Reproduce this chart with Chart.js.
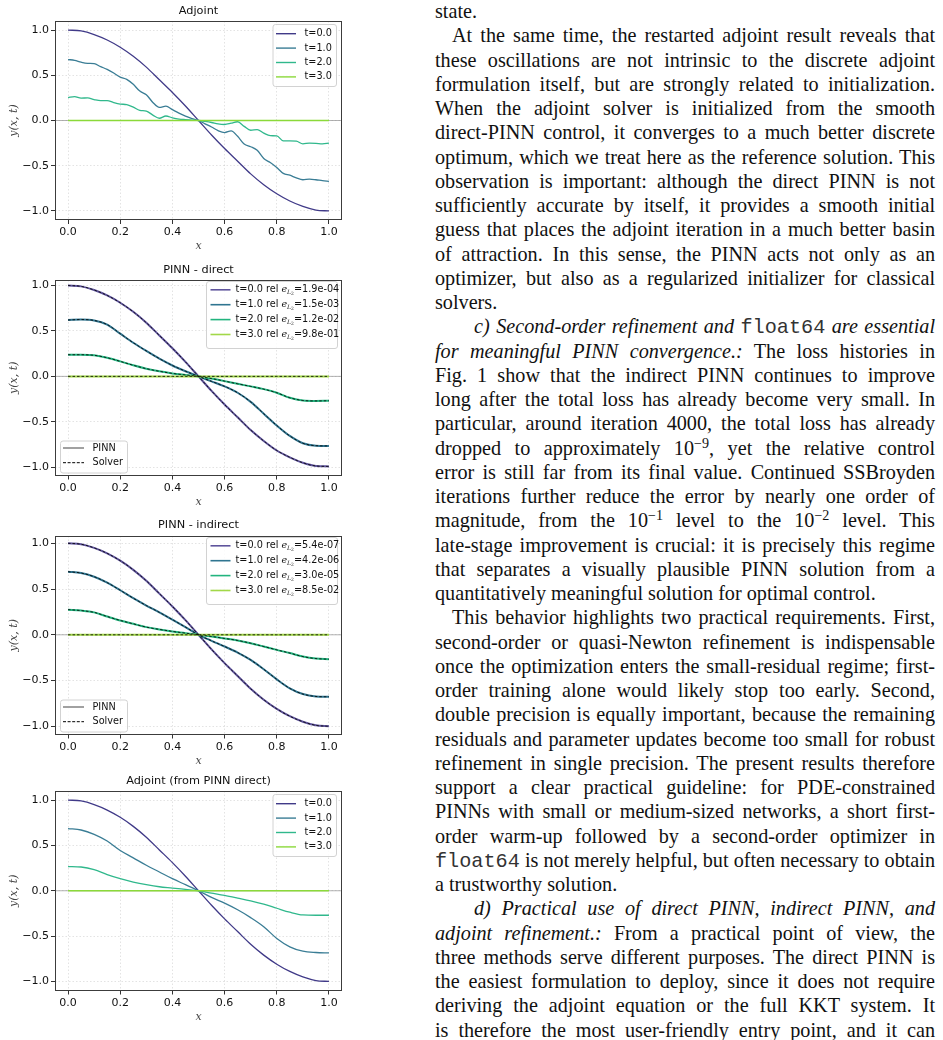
<!DOCTYPE html>
<html>
<head>
<meta charset="utf-8">
<script src="https://cdn.jsdelivr.net/npm/chart.js@4.4.1/dist/chart.umd.min.js"></script>
<style>
  html, body { margin: 0; padding: 0; background: #fff; }
  body { width: 943px; height: 1040px; overflow: hidden; position: relative; }
  canvas { position: absolute; left: 0; }
  #text { position: absolute; left: 435px; top: -1px; width: 500px;
          font-family: "Liberation Serif", "Times New Roman", serif; font-size: 20.2px;
          line-height: 24.25px; color: #111; }
  .ln { height: 24.25px; white-space: nowrap; box-sizing: border-box; width: 500px; }
  .ind { padding-left: 17px; }
  .ind2 { padding-left: 39px; }
  .tt { font-family: "Liberation Mono", "Courier New", monospace; color: #333; }
  sup { font-size: 0.7em; line-height: 0; vertical-align: 0.5em; }
</style>
</head>
<body>
<canvas id="c1" width="350" height="257" style="top:0px"></canvas>
<canvas id="c2" width="350" height="257" style="top:257px"></canvas>
<canvas id="c3" width="350" height="256" style="top:514px"></canvas>
<canvas id="c4" width="350" height="260" style="top:770px"></canvas>

<div id="text">
<div class="ln"><span>state.</span></div>
<div class="ln j ind"><span>At the same time, the restarted adjoint result reveals that</span></div>
<div class="ln j"><span>these oscillations are not intrinsic to the discrete adjoint</span></div>
<div class="ln j"><span>formulation itself, but are strongly related to initialization.</span></div>
<div class="ln j"><span>When the adjoint solver is initialized from the smooth</span></div>
<div class="ln j"><span>direct-PINN control, it converges to a much better discrete</span></div>
<div class="ln j"><span>optimum, which we treat here as the reference solution. This</span></div>
<div class="ln j"><span>observation is important: although the direct PINN is not</span></div>
<div class="ln j"><span>sufficiently accurate by itself, it provides a smooth initial</span></div>
<div class="ln j"><span>guess that places the adjoint iteration in a much better basin</span></div>
<div class="ln j"><span>of attraction. In this sense, the PINN acts not only as an</span></div>
<div class="ln j"><span>optimizer, but also as a regularized initializer for classical</span></div>
<div class="ln"><span>solvers.</span></div>
<div class="ln j ind2"><span><i>c) Second-order refinement and </i><span class="tt">float64</span><i> are essential</i></span></div>
<div class="ln j"><span><i>for meaningful PINN convergence.:</i> The loss histories in</span></div>
<div class="ln j"><span>Fig. 1 show that the indirect PINN continues to improve</span></div>
<div class="ln j"><span>long after the total loss has already become very small. In</span></div>
<div class="ln j"><span>particular, around iteration 4000, the total loss has already</span></div>
<div class="ln j"><span>dropped to approximately 10<sup>−9</sup>, yet the relative control</span></div>
<div class="ln j"><span>error is still far from its final value. Continued SSBroyden</span></div>
<div class="ln j"><span>iterations further reduce the error by nearly one order of</span></div>
<div class="ln j"><span>magnitude, from the 10<sup>−1</sup> level to the 10<sup>−2</sup> level. This</span></div>
<div class="ln j"><span>late-stage improvement is crucial: it is precisely this regime</span></div>
<div class="ln j"><span>that separates a visually plausible PINN solution from a</span></div>
<div class="ln"><span>quantitatively meaningful solution for optimal control.</span></div>
<div class="ln j ind"><span>This behavior highlights two practical requirements. First,</span></div>
<div class="ln j"><span>second-order or quasi-Newton refinement is indispensable</span></div>
<div class="ln j"><span>once the optimization enters the small-residual regime; first-</span></div>
<div class="ln j"><span>order training alone would likely stop too early. Second,</span></div>
<div class="ln j"><span>double precision is equally important, because the remaining</span></div>
<div class="ln j"><span>residuals and parameter updates become too small for robust</span></div>
<div class="ln j"><span>refinement in single precision. The present results therefore</span></div>
<div class="ln j"><span>support a clear practical guideline: for PDE-constrained</span></div>
<div class="ln j"><span>PINNs with small or medium-sized networks, a short first-</span></div>
<div class="ln j"><span>order warm-up followed by a second-order optimizer in</span></div>
<div class="ln j"><span><span class="tt">float64</span> is not merely helpful, but often necessary to obtain</span></div>
<div class="ln"><span>a trustworthy solution.</span></div>
<div class="ln j ind2"><span><i>d) Practical use of direct PINN, indirect PINN, and</i></span></div>
<div class="ln j"><span><i>adjoint refinement.:</i> From a practical point of view, the</span></div>
<div class="ln j"><span>three methods serve different purposes. The direct PINN is</span></div>
<div class="ln j"><span>the easiest formulation to deploy, since it does not require</span></div>
<div class="ln j"><span>deriving the adjoint equation or the full KKT system. It</span></div>
<div class="ln j"><span>is therefore the most user-friendly entry point, and it can</span></div>
</div>

<script>
// x grids
const x21 = [0.0, 0.05, 0.1, 0.15, 0.2, 0.25, 0.3, 0.35, 0.4, 0.45, 0.5,
             0.55, 0.6, 0.65, 0.7, 0.75, 0.8, 0.85, 0.9, 0.95, 1.0];
const x41 = [0.0, 0.025, 0.05, 0.075, 0.1, 0.125, 0.15, 0.175, 0.2, 0.225, 0.25,
             0.275, 0.3, 0.325, 0.35, 0.375, 0.4, 0.425, 0.45, 0.475, 0.5,
             0.525, 0.55, 0.575, 0.6, 0.625, 0.65, 0.675, 0.7, 0.725, 0.75,
             0.775, 0.8, 0.825, 0.85, 0.875, 0.9, 0.925, 0.95, 0.975, 1.0];

const xTicks = [0.0, 0.2, 0.4, 0.6, 0.8, 1.0];
const yTicks = [-1.0, -0.5, 0.0, 0.5, 1.0];

const tLabels = ['t=0.0', 't=1.0', 't=2.0', 't=3.0'];
const directErr = ['1.9e-04', '1.5e-03', '1.2e-02', '9.8e-01'];
const indirectErr = ['5.4e-07', '4.2e-06', '3.0e-05', '8.5e-02'];

// Adjoint (oscillating)
const adj_t0 = [1.0, 0.99, 0.95, 0.89, 0.81, 0.71, 0.59, 0.45, 0.31, 0.16, 0.0,
                -0.16, -0.31, -0.45, -0.59, -0.71, -0.81, -0.89, -0.95, -0.99, -1.0];
const adj_t1 = [0.674, 0.665, 0.645, 0.632, 0.628, 0.595, 0.565, 0.525, 0.48, 0.455, 0.40,
                0.325, 0.285, 0.20, 0.145, 0.158, 0.12, 0.082, 0.048, 0.022, 0.0,
                -0.037, -0.072, -0.112, -0.133, -0.115, -0.175, -0.26, -0.29, -0.33, -0.42,
                -0.465, -0.52, -0.585, -0.605, -0.635, -0.655, -0.648, -0.655, -0.665, -0.672];
const adj_t2 = [0.252, 0.265, 0.248, 0.25, 0.232, 0.22, 0.22, 0.198, 0.182, 0.176, 0.148,
                0.112, 0.104, 0.06, 0.025, 0.05, 0.03, 0.016, 0.01, 0.005, 0.0,
                -0.01, -0.022, -0.038, -0.044, -0.03, -0.014, -0.065, -0.108, -0.1, -0.14,
                -0.168, -0.17, -0.225, -0.225, -0.228, -0.258, -0.25, -0.252, -0.258, -0.25];
const adj_t3 = [0, 0, 0, 0, 0, 0, 0, 0, 0, 0, 0, 0, 0, 0, 0, 0, 0, 0, 0, 0, 0];

// PINN - direct
const dir_t0 = [1.0, 0.99, 0.95, 0.89, 0.81, 0.71, 0.59, 0.45, 0.31, 0.16, 0.0,
                -0.16, -0.31, -0.45, -0.59, -0.71, -0.815, -0.89, -0.95, -0.985, -0.99];
const dir_t1 = [0.62, 0.625, 0.615, 0.57, 0.47, 0.37, 0.28, 0.195, 0.12, 0.057, 0.0,
                -0.055, -0.11, -0.18, -0.28, -0.41, -0.54, -0.655, -0.735, -0.762, -0.765];
const dir_t2 = [0.238, 0.238, 0.232, 0.205, 0.165, 0.122, 0.085, 0.056, 0.033, 0.016, 0.0,
                -0.024, -0.052, -0.082, -0.11, -0.14, -0.18, -0.235, -0.265, -0.27, -0.268];
const dir_t3 = [0, 0, 0, 0, 0, 0, 0, 0, 0, 0, 0, 0, 0, 0, 0, 0, 0, 0, 0, 0, 0];

// PINN - indirect
const ind_t0 = [1.0, 0.99, 0.95, 0.89, 0.81, 0.71, 0.59, 0.45, 0.31, 0.16, 0.0,
                -0.16, -0.31, -0.45, -0.59, -0.71, -0.81, -0.89, -0.95, -0.99, -1.0];
const ind_t1 = [0.69, 0.675, 0.635, 0.57, 0.487, 0.40, 0.32, 0.245, 0.165, 0.084, 0.0,
                -0.066, -0.128, -0.194, -0.275, -0.377, -0.487, -0.586, -0.648, -0.674, -0.678];
const ind_t2 = [0.275, 0.265, 0.245, 0.20, 0.157, 0.12, 0.084, 0.059, 0.037, 0.018, 0.0,
                -0.018, -0.04, -0.062, -0.092, -0.128, -0.165, -0.20, -0.238, -0.26, -0.267];
const ind_t3 = [0, 0, 0, 0, 0, 0, 0, 0, 0, 0, 0, 0, 0, 0, 0, 0, 0, 0, 0, 0, 0];

// Adjoint (from PINN direct)
const ad2_t0 = [1.0, 0.99, 0.95, 0.89, 0.81, 0.71, 0.59, 0.45, 0.31, 0.16, 0.0,
                -0.16, -0.31, -0.45, -0.59, -0.71, -0.81, -0.89, -0.95, -0.99, -1.0];
const ad2_t1 = [0.685, 0.67, 0.622, 0.548, 0.444, 0.363, 0.281, 0.207, 0.133, 0.067, 0.0,
                -0.074, -0.137, -0.21, -0.296, -0.396, -0.526, -0.618, -0.667, -0.681, -0.685];
const ad2_t2 = [0.267, 0.262, 0.233, 0.178, 0.133, 0.096, 0.067, 0.044, 0.03, 0.015, 0.0,
                -0.026, -0.052, -0.081, -0.111, -0.148, -0.193, -0.237, -0.267, -0.27, -0.27];
const ad2_t3 = [0, 0, 0, 0, 0, 0, 0, 0, 0, 0, 0, 0, 0, 0, 0, 0, 0, 0, 0, 0, 0];

const adjColors = ['#403a88', '#3a7d95', '#30b88c', '#8bd93a'];
const pinnColors = ['#5f549c', '#2f7590', '#22b47e', '#a2d848'];

const SANS = '"DejaVu Sans", sans-serif';
const SERIF = '"DejaVu Serif", serif';

function fmtTick(v) {
	return (v < 0 ? '\u2212' : '') + Math.abs(v).toFixed(1);
}

function pts(xs, ys) {
	return xs.map((x, i) => ({ x: x, y: ys[i] }));
}

function lineDs(xs, ys, color, width, dash, order) {
	return {
		data: pts(xs, ys),
		borderColor: color,
		borderWidth: width,
		borderDash: dash || [],
		pointRadius: 0,
		fill: false,
		cubicInterpolationMode: 'monotone',
		order: order
	};
}

function drawParts(ctx, x, y, parts) {
	parts.forEach(p => {
		ctx.font = p[1];
		ctx.fillText(p[0], x, y + (p[2] || 0));
		x += ctx.measureText(p[0]).width;
	});
}

function drawLegend(ctx, L) {
	ctx.save();
	ctx.fillStyle = 'rgba(255,255,255,0.85)';
	ctx.strokeStyle = '#d2d2d2';
	ctx.lineWidth = 1;
	ctx.beginPath();
	ctx.roundRect(L.x0 + 0.5, L.y0 + 0.5, L.x1 - L.x0, L.y1 - L.y0, 2.5);
	ctx.fill();
	ctx.stroke();
	L.rows.forEach((r, i) => {
		const yy = L.ry + i * L.step;
		ctx.strokeStyle = r.color;
		ctx.lineWidth = r.width;
		ctx.setLineDash(r.dash || []);
		ctx.beginPath();
		ctx.moveTo(L.lx0, yy);
		ctx.lineTo(L.lx1, yy);
		ctx.stroke();
		ctx.setLineDash([]);
		ctx.fillStyle = '#111';
		ctx.textBaseline = 'middle';
		drawParts(ctx, L.tx, yy, r.parts);
	});
	ctx.restore();
}

const LEG_FONT = '9.7px ' + SANS;

function errParts(t, err) {
	return [
		[t + ' rel ', LEG_FONT],
		['e', 'italic 9.6px ' + SERIF],
		['L', 'italic 6px ' + SERIF, 2.5],
		['2', '4.5px ' + SERIF, 4],
		['=' + err, LEG_FONT]
	];
}

const decoPlugin = {
	id: 'deco',
	beforeDatasetsDraw(chart, args, o) {
		const ctx = chart.ctx, a = chart.chartArea;
		const y0 = chart.scales.y.getPixelForValue(0);
		ctx.save();
		ctx.strokeStyle = 'rgba(128,128,128,0.6)';
		ctx.lineWidth = 1;
		ctx.beginPath();
		ctx.moveTo(a.left, y0);
		ctx.lineTo(a.right, y0);
		ctx.stroke();
		ctx.restore();
	},
	afterDraw(chart, args, o) {
		const ctx = chart.ctx, a = chart.chartArea;
		ctx.save();
		// frame
		ctx.strokeStyle = '#3c3c3c';
		ctx.lineWidth = 1;
		ctx.strokeRect(Math.round(a.left) + 0.5, Math.round(a.top) + 0.5,
			Math.round(a.right - a.left) - 1, Math.round(a.bottom - a.top) - 1);
		// title
		const cx = (a.left + a.right) / 2;
		ctx.fillStyle = '#111';
		ctx.textAlign = 'center';
		ctx.textBaseline = 'middle';
		ctx.font = '11.3px ' + SANS;
		ctx.fillText(o.title, cx, a.top - o.titleGap);
		// axis labels
		ctx.fillStyle = '#444';
		ctx.font = 'italic 11px ' + SERIF;
		ctx.fillText('x', cx, a.bottom + 26.5);
		ctx.save();
		ctx.translate(14, (a.top + a.bottom) / 2);
		ctx.rotate(-Math.PI / 2);
		ctx.fillText('y(x, t)', 0, 0);
		ctx.restore();
		ctx.textAlign = 'left';
		ctx.restore();

		if (o.legend === 'adj') {
			drawLegend(ctx, {
				x0: 272.5, x1: 336, y0: a.top + 3, y1: a.top + 65,
				ry: a.top + 12.7, step: 14.4, lx0: 276, lx1: 296, tx: 304.5,
				rows: tLabels.map((t, i) => ({ color: adjColors[i], width: 1.4, parts: [[t, LEG_FONT]] }))
			});
		} else {
			const errs = o.legend === 'direct' ? directErr : indirectErr;
			drawLegend(ctx, {
				x0: 206, x1: 337, y0: a.top + 1, y1: a.top + 68,
				ry: a.top + 9.8, step: 14.9, lx0: 210.5, lx1: 230.5, tx: 235.5,
				rows: tLabels.map((t, i) => ({ color: pinnColors[i], width: 1.6, parts: errParts(t, errs[i]) }))
			});
			drawLegend(ctx, {
				x0: 60, x1: 127, y0: a.bottom - 35, y1: a.bottom - 3,
				ry: a.bottom - 27.5, step: 14.7, lx0: 63, lx1: 84, tx: 92.5,
				rows: [
					{ color: '#8a8a8a', width: 1.6, parts: [['PINN', LEG_FONT]] },
					{ color: '#000', width: 1, dash: [3, 1.6], parts: [['Solver', LEG_FONT]] }
				]
			});
		}
	}
};

function makeChart(id, cfg) {
	const canvas = document.getElementById(id);
	const H = canvas.height;
	const tickFont = { family: SANS, size: 11 };
	return new Chart(canvas.getContext('2d'), {
		type: 'line',
		data: { datasets: cfg.datasets },
		options: {
			responsive: false,
			animation: false,
			events: [],
			layout: { padding: { top: cfg.pt, right: 8, left: 0, bottom: 0 } },
			plugins: {
				legend: { display: false },
				tooltip: { enabled: false },
				deco: { title: cfg.title, titleGap: cfg.titleGap, legend: cfg.legend }
			},
			scales: {
				x: {
					type: 'linear',
					min: -0.05,
					max: 1.05,
					afterBuildTicks: s => { s.ticks = xTicks.map(v => ({ value: v })); },
					afterFit: s => { s.height = H - cfg.pb; },
					ticks: { callback: fmtTick, font: tickFont, color: '#111', padding: 2, maxRotation: 0, autoSkip: false },
					grid: { color: 'rgba(0,0,0,0.11)', tickColor: '#333', tickLength: 4, tickWidth: 1 },
					border: { display: false, dash: [1.5, 2] }
				},
				y: {
					min: cfg.ymin,
					max: cfg.ymax,
					afterBuildTicks: s => { s.ticks = yTicks.map(v => ({ value: v })); },
					afterFit: s => { s.width = 55; },
					ticks: { callback: fmtTick, font: tickFont, color: '#111', padding: 2, autoSkip: false },
					grid: { color: 'rgba(0,0,0,0.11)', tickColor: '#333', tickLength: 4, tickWidth: 1 },
					border: { display: false, dash: [1.5, 2] }
				}
			}
		},
		plugins: [decoPlugin]
	});
}

// PINN lines underneath, solver dashed lines on top
function pinnSets(series) {
	const sets = [];
	series.forEach((s, i) => sets.push(lineDs(x21, s, pinnColors[i], 2.0, [], 10 - i)));
	series.forEach((s, i) => sets.push(lineDs(x21, s, '#000', 0.8, [2.5, 2], 5 - i)));
	return sets;
}

makeChart('c1', {
	pt: 21, pb: 220, ymin: -1.1, ymax: 1.1, title: 'Adjoint', titleGap: 9.5, legend: 'adj',
	datasets: [
		lineDs(x21, adj_t0, adjColors[0], 1.3, [], 10),
		lineDs(x41, adj_t1, adjColors[1], 1.3, [], 9),
		lineDs(x41, adj_t2, adjColors[2], 1.3, [], 8),
		lineDs(x21, adj_t3, adjColors[3], 1.3, [], 7)
	]
});

makeChart('c2', {
	pt: 23, pb: 218.5, ymin: -1.09, ymax: 1.06, title: 'PINN - direct', titleGap: 10, legend: 'direct',
	datasets: pinnSets([dir_t0, dir_t1, dir_t2, dir_t3])
});

makeChart('c3', {
	pt: 22, pb: 220.5, ymin: -1.09, ymax: 1.08, title: 'PINN - indirect', titleGap: 11, legend: 'indirect',
	datasets: pinnSets([ind_t0, ind_t1, ind_t2, ind_t3])
});

makeChart('c4', {
	pt: 21, pb: 220.5, ymin: -1.1, ymax: 1.1, title: 'Adjoint (from PINN direct)', titleGap: 9.5, legend: 'adj',
	datasets: [
		lineDs(x21, ad2_t0, adjColors[0], 1.3, [], 10),
		lineDs(x21, ad2_t1, adjColors[1], 1.3, [], 9),
		lineDs(x21, ad2_t2, adjColors[2], 1.3, [], 8),
		lineDs(x21, ad2_t3, adjColors[3], 1.3, [], 7)
	]
});

// justify each text line to the column width
function justifyLines() {
	document.querySelectorAll('.ln.j').forEach(div => {
		const sp = div.firstElementChild;
		sp.style.wordSpacing = '0px';
		const avail = div.clientWidth - parseFloat(getComputedStyle(div).paddingLeft);
		const w = sp.getBoundingClientRect().width;
		const n = (sp.textContent.match(/ /g) || []).length;
		if (n) sp.style.wordSpacing = ((avail - w) / n) + 'px';
	});
}
justifyLines();
if (document.fonts && document.fonts.ready) document.fonts.ready.then(justifyLines);
</script>
</body>
</html>
